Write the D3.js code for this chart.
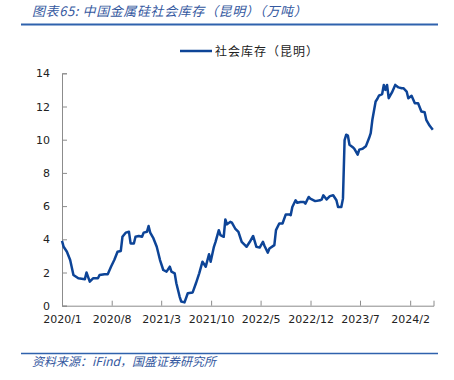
<!DOCTYPE html>
<html>
<head>
<meta charset="utf-8">
<script src="https://cdn.jsdelivr.net/npm/d3@7"></script>
<style>
  body { margin: 0; background: #fff; }
  svg { display: block; }
</style>
</head>
<body>
<script>
(function () {
  // weeks since 2020-01-01
  const weeks = [0, 1, 3, 5, 7, 10, 14, 15, 17, 19, 22, 23, 26, 28, 30, 32, 34, 36, 37, 39,
    41, 42, 44, 45, 47, 49, 50, 52, 53, 54, 56, 58, 60, 62, 64, 66, 67, 69, 70, 72,
    73, 75, 77, 80, 82, 84, 86, 88, 90, 91, 93, 94, 96, 97, 99, 100, 101, 103, 104, 106,
    108, 110, 112, 113, 115, 117, 119, 121, 123, 124, 126, 127, 130, 131, 133, 135, 137, 139, 140, 141,
    143, 144, 146, 148, 149, 151, 152, 155, 158, 159, 160, 162, 164, 166, 168, 169, 171, 172, 173, 174,
    175, 176, 178, 179, 181, 182, 184, 186, 188, 189, 190, 192, 193, 194, 196, 197, 198, 199, 200, 202,
    204, 206, 208, 209, 211, 212, 214, 216, 218, 220, 222, 223, 225, 227]
  const stock = [3.9, 3.55, 3.25, 2.75, 1.85, 1.65, 1.6, 2.0, 1.45, 1.65, 1.65, 1.85, 1.9, 1.9, 2.35, 2.75, 3.25, 3.3, 4.15, 4.4,
    4.45, 3.75, 3.75, 4.15, 4.2, 4.15, 4.4, 4.45, 4.8, 4.4, 4.05, 3.55, 2.75, 2.15, 2.05, 2.35, 2.05, 1.95, 1.35, 0.55,
    0.25, 0.2, 0.75, 0.8, 1.35, 1.95, 2.65, 2.35, 3.1, 2.65, 3.55, 3.85, 4.55, 4.25, 4.15, 5.2, 4.9, 5.05, 5.0, 4.65,
    4.45, 3.85, 3.65, 3.55, 3.85, 4.2, 3.55, 3.5, 3.85, 3.6, 3.2, 3.45, 3.65, 4.55, 4.95, 4.95, 5.5, 5.5, 5.45, 5.95,
    6.35, 6.2, 6.25, 6.25, 6.15, 6.55, 6.45, 6.3, 6.35, 6.4, 6.65, 6.4, 6.6, 6.65, 6.35, 5.95, 5.95, 6.45, 9.98, 10.3,
    10.25, 9.7, 9.55, 9.45, 9.1, 9.4, 9.45, 9.6, 10.1, 10.4, 11.2, 12.3, 12.45, 12.65, 12.75, 13.3, 13.0, 13.3, 12.5, 12.85,
    13.3, 13.15, 13.1, 13.1, 12.9, 12.5, 12.65, 12.2, 12.2, 11.7, 11.65, 11.2, 10.85, 10.6]
  const tickLabels = ['2020/1', '2020/8', '2021/3', '2021/10', '2022/5', '2022/12', '2023/7', '2024/2']
  const yTicks = [0, 2, 4, 6, 8, 10, 12, 14]

  const title = '图表65: 中国金属硅社会库存（昆明）（万吨）'
  const seriesName = '社会库存（昆明）'
  const source = '资料来源：iFind，国盛证券研究所'

  const W = 454, H = 380
  const left = 62, right = 433.5, top = 73.3, bottom = 305.7
  const blue = '#3458a0'
  const lineColor = '#0d4497'

  const parseMonth = d3.timeParse('%Y/%m')
  const base = new Date(2020, 0, 1)
  const data = weeks.map((w, i) => ({ date: d3.timeDay.offset(base, w * 7), v: stock[i] }))

  const svg = d3.select('body').append('svg')
    .attr('width', W)
    .attr('height', H)

  const x = d3.scaleTime()
    .domain([base, new Date(2024, 4, 11)])
    .range([left, right])
  const y = d3.scaleLinear()
    .domain([0, 14])
    .range([bottom, top])

  // title + rules
  svg.append('text')
    .attr('x', 32).attr('y', 16)
    .attr('fill', blue)
    .style('font-family', '"Noto Sans CJK SC", sans-serif')
    .style('font-style', 'italic')
    .style('font-size', '13px')
    .style('letter-spacing', '0.6px')
    .text(title)
  svg.append('line')
    .attr('x1', 21).attr('x2', 438).attr('y1', 24.5).attr('y2', 24.5)
    .attr('stroke', '#2f62ad').attr('stroke-width', 2)
  svg.append('line')
    .attr('x1', 21).attr('x2', 438).attr('y1', 353.5).attr('y2', 353.5)
    .attr('stroke', '#2f62ad').attr('stroke-width', 1.5)
  svg.append('text')
    .attr('x', 32).attr('y', 366)
    .attr('fill', blue)
    .style('font-family', '"Noto Sans CJK SC", sans-serif')
    .style('font-style', 'italic')
    .style('font-size', '12px')
    .text(source)

  // legend
  svg.append('line')
    .attr('x1', 180).attr('x2', 212).attr('y1', 51).attr('y2', 51)
    .attr('stroke', lineColor).attr('stroke-width', 2.5)
  svg.append('text')
    .attr('x', 215).attr('y', 55.5)
    .attr('fill', '#222')
    .style('font-family', '"Noto Sans CJK SC", sans-serif')
    .style('font-size', '12px')
    .style('letter-spacing', '1px')
    .text(seriesName)

  // axes
  svg.append('g')
    .attr('transform', `translate(${left},0)`)
    .call(d3.axisLeft(y).tickValues(yTicks).tickSize(-5).tickPadding(12))
  svg.append('g')
    .attr('transform', `translate(0,${bottom})`)
    .call(d3.axisBottom(x)
      .tickValues(tickLabels.map(parseMonth))
      .tickFormat((d, i) => tickLabels[i])
      .tickSize(-5).tickPadding(10))

  svg.selectAll('.domain, .tick line')
    .attr('stroke', '#8c8c8c')
  svg.selectAll('.tick text')
    .attr('fill', '#222')
    .style('font-family', '"DejaVu Sans", Verdana, sans-serif')
    .style('font-size', '11px')

  // series
  const line = d3.line()
    .x(d => x(d.date))
    .y(d => y(d.v))
  svg.append('path')
    .datum(data)
    .attr('fill', 'none')
    .attr('stroke', lineColor)
    .attr('stroke-width', 2.5)
    .attr('stroke-linejoin', 'round')
    .attr('d', line)
})()
</script>
</body>
</html>
